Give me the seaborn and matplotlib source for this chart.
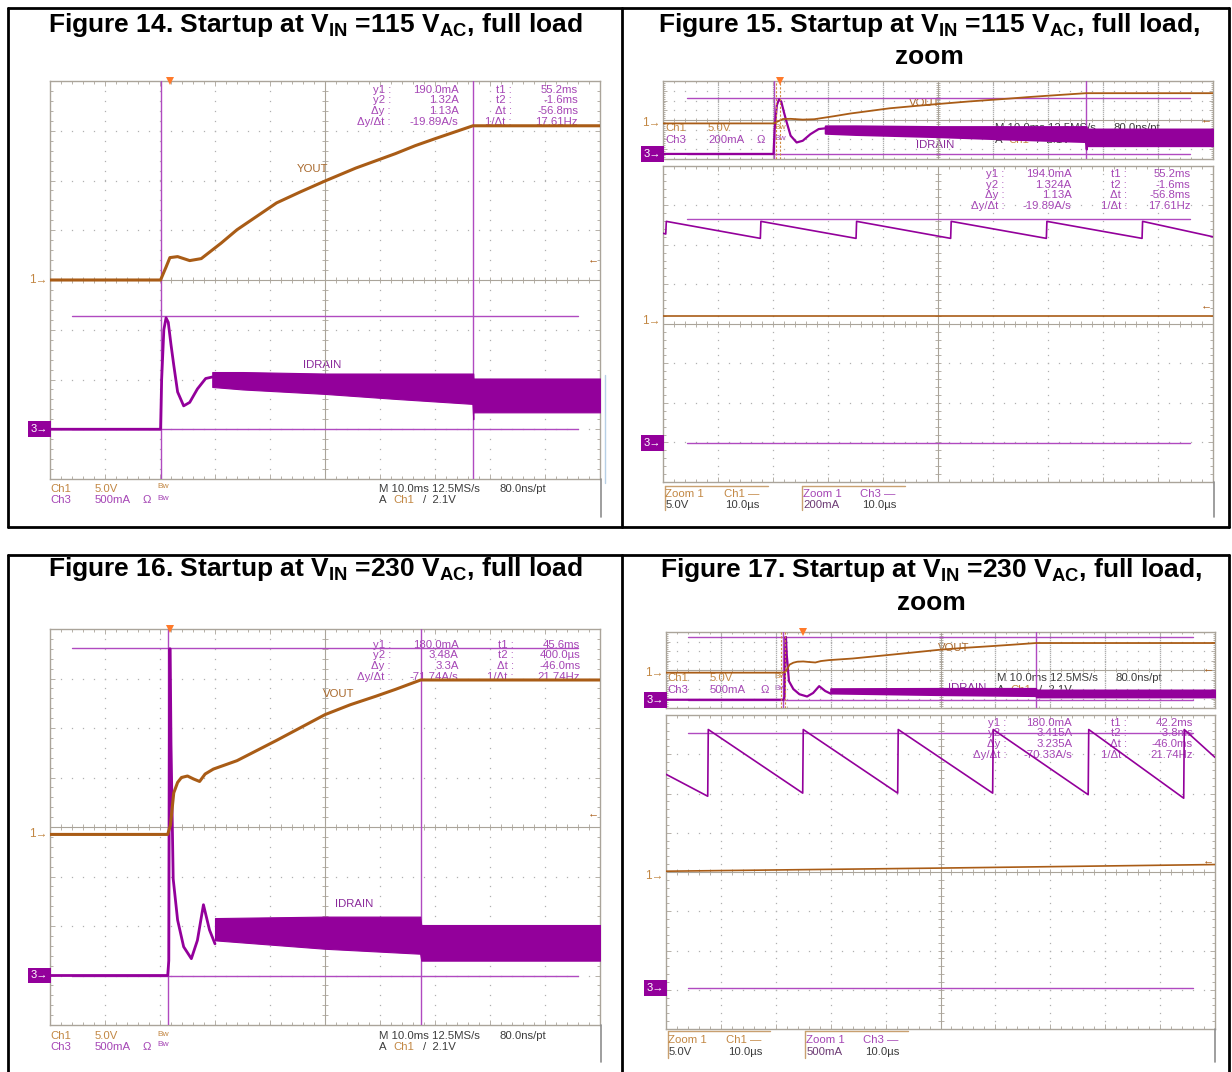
import numpy as np
import pandas as pd
import matplotlib
matplotlib.use("Agg")
import matplotlib.pyplot as plt
from matplotlib.lines import Line2D
import seaborn as sns

# ===================== values =====================
# ---- 115 VAC start-up (Fig. 14, and overview strip of Fig. 15); time in ms from trigger
f14_vout_t = [-21.8, -1.7, -0.7, 0.0, 1.4, 3.6, 5.7, 9.3, 12.2, 15.8, 19.4, 23.7, 28.2, 33.8, 41.0, 44.6, 48.2, 55.1, 78.2]
f14_vout_v = [0.0, 0.0, 1.3, 2.25, 2.35, 1.95, 2.15, 3.7, 5.05, 6.4, 7.75, 8.85, 9.95, 11.25, 12.7, 13.5, 14.2, 15.5, 15.5]
f14_id_t = [-21.8, -1.7, -1.5, -1.1, -0.7, -0.3, 0.2, 0.7, 1.4, 2.5, 3.6, 5.0, 6.5, 7.7]
f14_id_a = [0.0, 0.0, 0.5, 1.0, 1.12, 1.075, 0.85, 0.645, 0.375, 0.235, 0.27, 0.405, 0.51, 0.525]
f14_band_t = [7.7, 13.2, 28.2, 41.0, 55.0, 55.15, 55.2, 78.2]
f14_band_hi = [0.575, 0.575, 0.56, 0.56, 0.56, 0.56, 0.51, 0.51]
f14_band_lo = [0.425, 0.40, 0.355, 0.305, 0.255, 0.10, 0.17, 0.17]
f14_cur_t = [-1.7, 55.1]
f14_cur_a = [0.0, 1.14]
f14_trig_ms = [0.0]
f15_trig_ms = [-0.5]

# ---- 230 VAC start-up (Fig. 16, and overview strip of Fig. 17)
f16_vout_t = [-21.8, -0.4, 0.1, 0.7, 1.4, 2.1, 3.2, 4.3, 5.4, 6.4, 7.9, 12.2, 19.4, 23.8, 28.2, 32.8, 37.4, 41.0, 45.6, 78.2]
f16_vout_v = [0.0, 0.0, 0.95, 4.2, 5.25, 5.75, 5.9, 5.6, 5.35, 6.1, 6.6, 7.45, 9.5, 10.8, 12.1, 13.1, 13.95, 14.65, 15.6, 15.6]
f16_id_t = [-21.8, -0.4, -0.2, -0.05, 0.05, 0.2, 0.6, 1.4, 2.5, 3.9, 5.0, 6.1, 7.2, 8.2]
f16_id_a = [0.0, 0.0, 0.15, 3.3, 3.3, 2.34, 0.975, 0.56, 0.29, 0.17, 0.355, 0.715, 0.46, 0.32]
f16_band_t = [8.2, 28.2, 45.5, 45.7, 78.2]
f16_band_hi = [0.58, 0.595, 0.595, 0.51, 0.51]
f16_band_lo = [0.355, 0.27, 0.22, 0.15, 0.15]
f16_cur_t = [-0.4, 45.6]
f16_cur_a = [0.0, 3.31]
f16_trig_ms = [0.0]
f17_trig_ms = [3.2]

# ---- zoom windows (10 us/div), time in us inside the zoom window
f15z_saw_t = [0.0, 0.5, 0.6, 17.7, 17.8, 35.1, 35.2, 52.3, 52.4, 69.7, 69.8, 87.1, 87.2, 100.0]
f15z_saw_a = [1.062, 1.058, 1.122, 1.036, 1.122, 1.036, 1.122, 1.036, 1.122, 1.036, 1.122, 1.036, 1.122, 1.044]
f15z_vout_t = [0.0, 100.0]
f15z_vout_v = [0.65, 0.65]
f15z_cur_a = [0.0, 1.136]

f17z_saw_t = [0.0, 7.6, 7.7, 24.9, 25.0, 42.2, 42.3, 59.5, 59.6, 76.9, 77.0, 94.3, 94.4, 100.0]
f17z_saw_a = [2.72, 2.44, 3.29, 2.48, 3.29, 2.48, 3.29, 2.48, 3.29, 2.46, 3.29, 2.415, 3.29, 2.935]
f17z_vout_t = [0.0, 50.0, 100.0]
f17z_vout_v = [0.65, 1.05, 1.5]
f17z_cur_a = [0.0, 3.25]

trig_level_v = 2.1

# ---- read-outs
lab_y = ["y1 :", "y2 :", "\u0394y :", "\u0394y/\u0394t :"]
lab_t = ["t1 :", "t2 :", "\u0394t :", "1/\u0394t :"]
f14_ry = ["190.0mA", "1.32A", "1.13A", "-19.89A/s"]
f14_rt = ["55.2ms", "-1.6ms", "-56.8ms", "17.61Hz"]
f15_ry = ["194.0mA", "1.324A", "1.13A", "-19.89A/s"]
f15_rt = ["55.2ms", "-1.6ms", "-56.8ms", "17.61Hz"]
f16_ry = ["180.0mA", "3.48A", "3.3A", "-71.74A/s"]
f16_rt = ["45.6ms", "400.0\u00b5s", "-46.0ms", "21.74Hz"]
f17_ry = ["180.0mA", "3.415A", "3.235A", "-70.33A/s"]
f17_rt = ["42.2ms", "-3.8ms", "-46.0ms", "21.74Hz"]

titles = [
    r"Figure 14. Startup at V$_{\mathbf{IN}}$ =115 V$_{\mathbf{AC}}$, full load",
    r"Figure 15. Startup at V$_{\mathbf{IN}}$ =115 V$_{\mathbf{AC}}$, full load,",
    r"Figure 16. Startup at V$_{\mathbf{IN}}$ =230 V$_{\mathbf{AC}}$, full load",
    r"Figure 17. Startup at V$_{\mathbf{IN}}$ =230 V$_{\mathbf{AC}}$, full load,",
]
title_zoom = "zoom"

# ===================== style =====================
sns.set_theme(style="white")
plt.rcParams["font.family"] = ["Liberation Sans", "DejaVu Sans"]
plt.rcParams["mathtext.fontset"] = "custom"
plt.rcParams["mathtext.bf"] = "Liberation Sans:bold"
plt.rcParams["mathtext.rm"] = "Liberation Sans"

PURPLE = "#93009b"
CURSOR = "#b04ac0"
PTXT = "#a545b5"
ORANGE = "#a95c16"
OTXT = "#c28743"
GRID = "#b0b0b0"
FRAME = "#aaa49a"
DARK = "#3c3c3c"
FS = 8.2

W, H = 1232, 1072
fig = plt.figure(figsize=(W / 100, H / 100), dpi=100)
fig.patch.set_facecolor("white")


def rect(L, T, R, B):
    return [L / W, 1 - B / H, (R - L) / W, (B - T) / H]


def ftxt(x, y, s, **kw):
    kw.setdefault("fontsize", FS)
    kw.setdefault("va", "center")
    fig.text(x / W, 1 - y / H, s, **kw)


def fline(xs, ys, **kw):
    fig.add_artist(Line2D([x / W for x in xs], [1 - y / H for y in ys], **kw))


def graticule(L, T, R, B, minor_len=2.0, major_len=3.6, ctick=4.5):
    ax = fig.add_axes(rect(L, T, R, B))
    ax.set_facecolor("white")
    ax.set_xlim(0, 10)
    ax.set_ylim(-4, 4)
    ax.set_xticks(np.arange(0, 11, 1))
    ax.set_yticks(np.arange(-4, 5, 1))
    ax.set_xticks(np.arange(0, 10.01, 0.2), minor=True)
    ax.set_yticks(np.arange(-4, 4.01, 0.2), minor=True)
    ax.tick_params(which="both", direction="in", top=True, right=True, bottom=True, left=True,
                   labelbottom=False, labelleft=False, color=FRAME, width=0.6)
    ax.tick_params(which="major", length=major_len)
    ax.tick_params(which="minor", length=minor_len)
    for s in ax.spines.values():
        s.set_color(FRAME)
        s.set_linewidth(1.0)
    ax.grid(False)
    gx = np.arange(0, 10.01, 0.2)
    gy = np.arange(-4, 4.01, 0.2)
    for k in range(1, 10):
        if k != 5:
            ax.plot(np.full_like(gy, k), gy, ls="none", marker="s", ms=0.9, mew=0, color=GRID)
    for k in range(-3, 4):
        if k != 0:
            ax.plot(gx, np.full_like(gx, k), ls="none", marker="s", ms=0.9, mew=0, color=GRID)
    ax.axvline(5, color=FRAME, lw=0.8)
    ax.axhline(0, color=FRAME, lw=0.8)
    ax.plot(gx, np.zeros_like(gx), ls="none", marker="|", ms=ctick, mew=0.6, color=FRAME)
    ax.plot(np.full_like(gy, 5), gy, ls="none", marker="_", ms=ctick, mew=0.6, color=FRAME)
    return ax


def chan(L, T, R, B, xlim, mark_div, per_div):
    a = fig.add_axes(rect(L, T, R, B))
    a.patch.set_alpha(0)
    lims = (tuple(xlim), ((-4 - mark_div) * per_div, (4 - mark_div) * per_div))
    return a, lims


def finish(a, lims):
    a.set_xlim(*lims[0])
    a.set_ylim(*lims[1])
    a.set_axis_off()


def trace(a, t, y, color, lw, z=3):
    sns.lineplot(x=t, y=y, ax=a, color=color, linewidth=lw, estimator=None, sort=False, zorder=z)


def markers(ach1, ach3, lim1, lim3, y1, y3):
    ach1.annotate("1\u2192", xy=(lim1[0][0], y1), xycoords="data", xytext=(-1.5, 0),
                  textcoords="offset points", ha="right", va="center", fontsize=8.5, color=OTXT,
                  annotation_clip=False)
    ach3.annotate("3\u2192", xy=(lim3[0][0], y3), xycoords="data", xytext=(-1.5, 0),
                  textcoords="offset points", ha="right", va="center", fontsize=8, color="white",
                  annotation_clip=False,
                  bbox=dict(boxstyle="square,pad=0.25", fc=PURPLE, ec="none"))


def readouts(g, rows, xs, ry, rt):
    for i, r in enumerate(rows):
        g.text(xs[0], r, lab_y[i], ha="right", va="center", fontsize=FS, color=PTXT, zorder=1)
        g.text(xs[1], r, ry[i], ha="right", va="center", fontsize=FS, color=PTXT, zorder=1)
        g.text(xs[2], r, lab_t[i], ha="right", va="center", fontsize=FS, color=PTXT, zorder=1)
        g.text(xs[3], r, rt[i], ha="right", va="center", fontsize=FS, color=PTXT, zorder=1)


def trig_arrow(a, lims, level):
    a.annotate("\u2190", xy=(lims[0][1], level), xycoords="data", xytext=(-1, 0),
               textcoords="offset points", ha="right", va="center", fontsize=8, color=ORANGE,
               annotation_clip=False)


def trig_mark(a, tms):
    a.plot(tms, [1.0] * len(tms), transform=a.get_xaxis_transform(), ls="none", marker="v",
           ms=6, color="#ff7a2a", mew=0, clip_on=False, zorder=6)


def scope_text_overview(g, xs, r1, r2, ch3_scale):
    g.text(xs[0], r1, "Ch1", fontsize=FS, color=OTXT, va="center", zorder=1)
    g.text(xs[1], r1, "5.0V", fontsize=FS, color=OTXT, va="center", zorder=1)
    g.text(xs[3], r1 + 0.15, "Bw", fontsize=6, color=OTXT, va="center", zorder=1)
    g.text(xs[0], r2, "Ch3", fontsize=FS, color=PTXT, va="center", zorder=1)
    g.text(xs[1], r2, ch3_scale, fontsize=FS, color=PTXT, va="center", zorder=1)
    g.text(xs[2], r2, "\u03a9", fontsize=FS, color=PTXT, va="center", zorder=1)
    g.text(xs[3], r2 + 0.15, "Bw", fontsize=6, color=PTXT, va="center", zorder=1)
    g.text(6.03, r1, "M 10.0ms 12.5MS/s", fontsize=FS, color=DARK, va="center", zorder=1)
    g.text(8.19, r1, "80.0ns/pt", fontsize=FS, color=DARK, va="center", zorder=1)
    g.text(6.03, r2, "A", fontsize=FS, color=DARK, va="center", zorder=1)
    g.text(6.28, r2, "Ch1", fontsize=FS, color=OTXT, va="center", zorder=1)
    g.text(6.8, r2, "/  2.1V", fontsize=FS, color=DARK, va="center", zorder=1)


def bottom_text_full(L, y1, y2):
    d = 55.0
    ftxt(L, y1, "Ch1", color=OTXT)
    ftxt(L + 0.81 * d, y1, "5.0V", color=OTXT)
    ftxt(L + 1.96 * d, y1 - 2, "Bw", color=OTXT, fontsize=6)
    ftxt(L, y2, "Ch3", color=PTXT)
    ftxt(L + 0.81 * d, y2, "500mA", color=PTXT)
    ftxt(L + 1.68 * d, y2, "\u03a9", color=PTXT)
    ftxt(L + 1.96 * d, y2 - 2, "Bw", color=PTXT, fontsize=6)
    ftxt(L + 5.99 * d, y1, "M 10.0ms 12.5MS/s", color=DARK)
    ftxt(L + 8.18 * d, y1, "80.0ns/pt", color=DARK)
    ftxt(L + 5.99 * d, y2, "A", color=DARK)
    ftxt(L + 6.25 * d, y2, "Ch1", color=OTXT)
    ftxt(L + 6.78 * d, y2, "/  2.1V", color=DARK)


def bottom_text_zoom(L, y1, y2, yline, ylow, ch3_scale):
    d = 55.0
    ftxt(L + 0.04 * d, y1, "Zoom 1", color=OTXT)
    ftxt(L + 1.1 * d, y1, "Ch1 \u2014", color=OTXT)
    ftxt(L + 0.04 * d, y2, "5.0V", color=DARK)
    ftxt(L + 1.13 * d, y2, "10.0\u00b5s", color=DARK)
    ftxt(L + 2.55 * d, y1, "Zoom 1", color=PTXT)
    ftxt(L + 3.58 * d, y1, "Ch3 \u2014", color=PTXT)
    ftxt(L + 2.55 * d, y2, ch3_scale, color="#6c3a74")
    ftxt(L + 3.62 * d, y2, "10.0\u00b5s", color=DARK)
    for x0, x1 in [(0.035, 1.9), (2.52, 4.4)]:
        fline([L + x0 * d, L + x1 * d], [yline, yline], color="#c9a070", lw=1.0)
        fline([L + x0 * d, L + x0 * d], [yline, ylow], color="#c9a070", lw=1.0)


# ===================== frames and titles =====================
for y0, y1 in [(8, 527), (555, 1073)]:
    fline([8, 1229], [y0, y0], color="black", lw=2)
    fline([8, 8], [y0, y1], color="black", lw=2)
    fline([1229, 1229], [y0, y1], color="black", lw=2)
    fline([622, 622], [y0, y1], color="black", lw=2)
fline([8, 1229], [527, 527], color="black", lw=2)

tkw = dict(fontsize=19, fontweight="bold", ha="center", va="baseline", color="black")
ftxt(315, 32, titles[0], **tkw)
ftxt(929, 32, titles[1], **tkw)
ftxt(929, 64, title_zoom, **tkw)
ftxt(315, 576, titles[2], **tkw)
ftxt(931, 577, titles[3], **tkw)
ftxt(931, 610, title_zoom, **tkw)

XL = (-21.8, 78.2)

# ===================== Fig. 14 =====================
P = (50, 81, 600, 479)
g = graticule(*P)
a3, l3 = chan(*P, XL, -3.0, 0.5)
a3.fill_between(f14_band_t, f14_band_lo, f14_band_hi, color=PURPLE, lw=0.8, ec=PURPLE, zorder=3)
trace(a3, f14_id_t, f14_id_a, PURPLE, 2.0)
for t in f14_cur_t:
    a3.axvline(t, color=CURSOR, lw=1.0, zorder=2)
for c in f14_cur_a:
    a3.axhline(c, xmin=0.04, xmax=0.96, color=CURSOR, lw=1.0, zorder=2)
finish(a3, l3)
a1, l1 = chan(*P, XL, 0.0, 5.0)
trace(a1, f14_vout_t, f14_vout_v, ORANGE, 2.2)
trig_mark(a1, f14_trig_ms)
trig_arrow(a1, l1, trig_level_v)
finish(a1, l1)
markers(a1, a3, l1, l3, 0.0, 0.0)
readouts(g, [3.81, 3.61, 3.39, 3.17], [6.2, 7.43, 8.4, 9.6], f14_ry, f14_rt)
g.text(4.77, 2.23, "YOUT", ha="center", va="center", fontsize=FS, color="#a8682c")
g.text(4.95, -1.71, "IDRAIN", ha="center", va="center", fontsize=FS, color="#8a2a9a", zorder=1)
bottom_text_full(50, 488.5, 500)
fline([601, 601], [479, 517], color="#8e8e8e", lw=1.2)
fline([605, 605], [375, 483], color="#b7d0e6", lw=1.0)

# ===================== Fig. 16 =====================
P = (50, 629, 600, 1025)
g = graticule(*P)
a3, l3 = chan(*P, XL, -3.0, 0.5)
a3.fill_between(f16_band_t, f16_band_lo, f16_band_hi, color=PURPLE, lw=0.8, ec=PURPLE, zorder=3)
trace(a3, f16_id_t, f16_id_a, PURPLE, 2.0)
for t in f16_cur_t:
    a3.axvline(t, color=CURSOR, lw=1.0, zorder=2)
for c in f16_cur_a:
    a3.axhline(c, xmin=0.04, xmax=0.96, color=CURSOR, lw=1.0, zorder=2)
finish(a3, l3)
a1, l1 = chan(*P, XL, -0.15, 5.0)
trace(a1, f16_vout_t, f16_vout_v, ORANGE, 2.2)
trig_mark(a1, f16_trig_ms)
trig_arrow(a1, l1, trig_level_v)
finish(a1, l1)
markers(a1, a3, l1, l3, 0.0, 0.0)
readouts(g, [3.68, 3.47, 3.25, 3.03], [6.2, 7.43, 8.43, 9.64], f16_ry, f16_rt)
g.text(5.25, 2.68, "VOUT", ha="center", va="center", fontsize=FS, color="#a8682c")
g.text(5.53, -1.55, "IDRAIN", ha="center", va="center", fontsize=FS, color="#8a2a9a", zorder=1)
bottom_text_full(50, 1036, 1047)
fline([601, 601], [1025, 1062], color="#8e8e8e", lw=1.2)

# ===================== Fig. 15 =====================
# overview strip
P = (663, 81, 1213, 159)
g = graticule(*P, minor_len=1.4, major_len=2.6, ctick=3.0)
scope_text_overview(g, [0.04, 0.82, 1.70, 2.02], -0.87, -2.09, "200mA")
g.text(4.75, 1.74, "VOUT", ha="center", va="center", fontsize=FS, color="#a8682c", zorder=1)
g.text(4.95, -2.54, "IDRAIN", ha="center", va="center", fontsize=FS, color="#8a2a9a", zorder=1)
a3, l3 = chan(*P, XL, -3.48, 0.2)
a3.fill_between(f14_band_t, f14_band_lo, f14_band_hi, color=PURPLE, lw=1.5, ec=PURPLE, zorder=3)
trace(a3, f14_id_t, f14_id_a, PURPLE, 1.6)
for t in f14_cur_t:
    a3.axvline(t, color=CURSOR, lw=1.0, zorder=2)
for c in f14_cur_a:
    a3.axhline(c, xmin=0.043, xmax=0.959, color=CURSOR, lw=1.0, zorder=2)
finish(a3, l3)
a1, l1 = chan(*P, XL, -0.35, 5.0)
trace(a1, f14_vout_t, f14_vout_v, ORANGE, 1.3)
for t in [-1.3, -0.6]:
    a1.axvline(t, color="#d08a40", lw=0.8, ls=(0, (2, 1.5)), zorder=4)
trig_mark(a1, f15_trig_ms)
trig_arrow(a1, l1, trig_level_v)
finish(a1, l1)
markers(a1, a3, l1, l3, 0.0, 0.0)
# zoom window
P = (663, 165.6, 1213, 482)
g = graticule(*P)
readouts(g, [3.79, 3.52, 3.25, 2.99], [6.21, 7.43, 8.44, 9.59], f15_ry, f15_rt)
a3, l3 = chan(*P, (0, 100), -3.02, 0.2)
trace(a3, f15z_saw_t, f15z_saw_a, PURPLE, 1.2)
for c in f15z_cur_a:
    a3.axhline(c, xmin=0.043, xmax=0.959, color=CURSOR, lw=1.0, zorder=2)
finish(a3, l3)
a1, l1 = chan(*P, (0, 100), 0.06, 5.0)
trace(a1, f15z_vout_t, f15z_vout_v, ORANGE, 1.2)
trig_arrow(a1, l1, trig_level_v)
finish(a1, l1)
markers(a1, a3, l1, l3, 0.0, 0.0)
bottom_text_zoom(663, 494, 505, 486, 510, "200mA")
fline([1214, 1214], [482, 517], color="#8e8e8e", lw=1.2)

# ===================== Fig. 17 =====================
P = (666, 632, 1215, 708)
g = graticule(*P, minor_len=1.4, major_len=2.6, ctick=3.0)
scope_text_overview(g, [0.03, 0.8, 1.72, 1.97], -0.87, -2.09, "500mA")
g.text(5.24, 2.33, "VOUT", ha="center", va="center", fontsize=FS, color="#a8682c", zorder=1)
g.text(5.49, -1.91, "IDRAIN", ha="center", va="center", fontsize=FS, color="#8a2a9a", zorder=1)
a3, l3 = chan(*P, XL, -3.13, 0.5)
a3.fill_between(f16_band_t, f16_band_lo, f16_band_hi, color=PURPLE, lw=1.5, ec=PURPLE, zorder=3)
trace(a3, f16_id_t, f16_id_a, PURPLE, 1.6)
for t in f16_cur_t:
    a3.axvline(t, color=CURSOR, lw=1.0, zorder=2)
for c in f16_cur_a:
    a3.axhline(c, xmin=0.04, xmax=0.96, color=CURSOR, lw=1.0, zorder=2)
finish(a3, l3)
a1, l1 = chan(*P, XL, -0.28, 5.0)
trace(a1, f16_vout_t, f16_vout_v, ORANGE, 1.3)
for t in [-0.9, -0.2]:
    a1.axvline(t, color="#d08a40", lw=0.8, ls=(0, (2, 1.5)), zorder=4)
trig_mark(a1, f17_trig_ms)
trig_arrow(a1, l1, trig_level_v)
finish(a1, l1)
markers(a1, a3, l1, l3, 0.0, 0.0)
P = (666, 715, 1215, 1029)
g = graticule(*P)
readouts(g, [3.79, 3.53, 3.27, 2.99], [6.2, 7.4, 8.4, 9.6], f17_ry, f17_rt)
a3, l3 = chan(*P, (0, 100), -2.95, 0.5)
trace(a3, f17z_saw_t, f17z_saw_a, PURPLE, 1.2)
for c in f17z_cur_a:
    a3.axhline(c, xmin=0.04, xmax=0.96, color=CURSOR, lw=1.0, zorder=2)
finish(a3, l3)
a1, l1 = chan(*P, (0, 100), -0.11, 5.0)
trace(a1, f17z_vout_t, f17z_vout_v, ORANGE, 1.2)
trig_arrow(a1, l1, trig_level_v)
finish(a1, l1)
markers(a1, a3, l1, l3, 0.0, 0.0)
bottom_text_zoom(666, 1040, 1052, 1031, 1058, "500mA")
fline([1215, 1215], [1029, 1062], color="#8e8e8e", lw=1.2)

fig.savefig("out.png", dpi=100, facecolor="white")
